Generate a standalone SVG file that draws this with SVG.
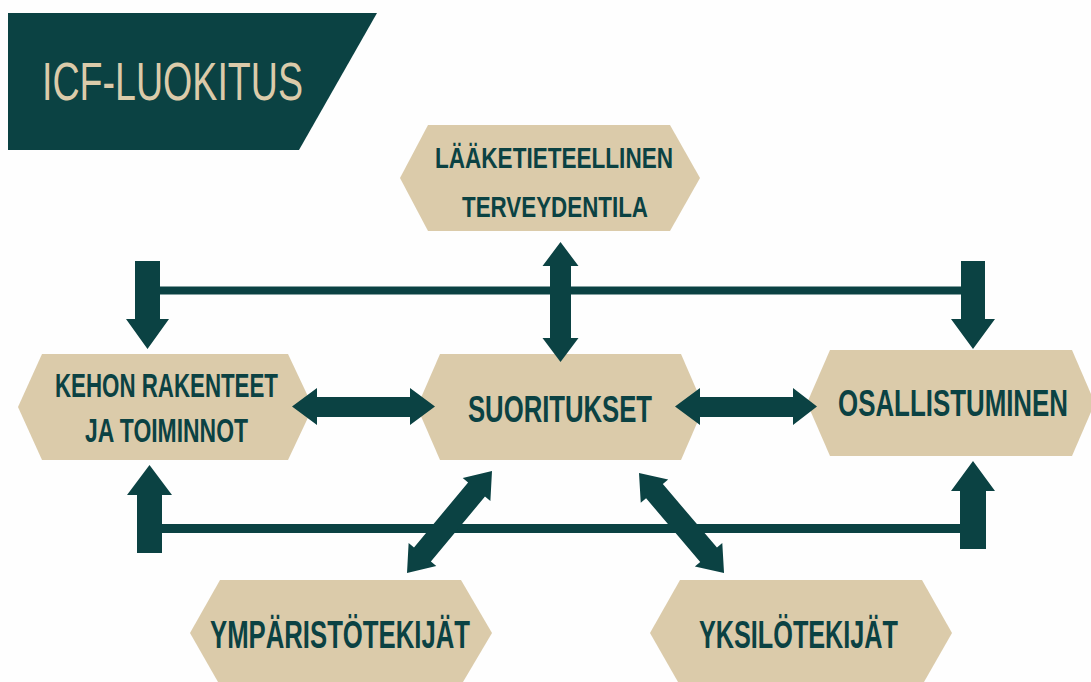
<svg xmlns="http://www.w3.org/2000/svg" width="1091" height="682" viewBox="0 0 1091 682">
<style>
.hex{fill:#dbcbaa}
.dk{fill:#0b4243}
.lbl{font-family:"Liberation Sans",Arial,sans-serif;font-weight:bold;fill:#0b4243;text-anchor:middle}
.ttl{font-family:"Liberation Sans",Arial,sans-serif;fill:#dbcbaa;text-anchor:middle}
</style>
<defs>
<polygon id="dbl" points="0,0 24,-18 24,-11 108,-11 108,-18 132,0 108,18 108,11 24,11 24,18"/>
</defs>
<rect width="1091" height="682" fill="#fefefe"/>
<g id="title">
<polygon class="dk" points="8,13 377,13 299,150 8,150"/>
<text class="ttl" x="172.5" y="100" font-size="53" textLength="261" lengthAdjust="spacingAndGlyphs">ICF-LUOKITUS</text>
</g>
<g id="node-terveydentila">
<polygon class="hex" points="400,178 428,125 670,125 700,178 670,231 428,231"/>
<text class="lbl" x="554" y="168" font-size="29" textLength="238" lengthAdjust="spacingAndGlyphs">LÄÄKETIETEELLINEN</text>
<text class="lbl" x="555" y="217" font-size="29" textLength="186" lengthAdjust="spacingAndGlyphs">TERVEYDENTILA</text>
</g>
<g id="node-kehon">
<polygon class="hex" points="18,407 42,354 288,354 313,407 288,460 42,460"/>
<text class="lbl" x="166.5" y="397" font-size="33" textLength="223" lengthAdjust="spacingAndGlyphs">KEHON RAKENTEET</text>
<text class="lbl" x="166.5" y="442" font-size="33" textLength="163" lengthAdjust="spacingAndGlyphs">JA TOIMINNOT</text>
</g>
<g id="node-suoritukset">
<polygon class="hex" points="417,407 440,354 681,354 704,407 681,460 440,460"/>
<text class="lbl" x="560" y="422" font-size="37" textLength="184" lengthAdjust="spacingAndGlyphs">SUORITUKSET</text>
</g>
<g id="node-osallistuminen">
<polygon class="hex" points="807,403 830,350 1072,350 1091,394 1091,412 1072,456 830,456"/>
<text class="lbl" x="0" y="0" font-size="36" transform="translate(953,416) scale(0.719,1)">OSALLISTUMINEN</text>
</g>
<g id="node-ymparisto">
<polygon class="hex" points="190,633 220,580 461,580 492,633 463,682 218,682"/>
<text class="lbl" x="340" y="648" font-size="38" textLength="260" lengthAdjust="spacingAndGlyphs">YMPÄRISTÖTEKIJÄT</text>
</g>
<g id="node-yksilo">
<polygon class="hex" points="650,633 680,580 922,580 952,633 924,682 678,682"/>
<text class="lbl" x="798.5" y="648" font-size="38" textLength="199" lengthAdjust="spacingAndGlyphs">YKSILÖTEKIJÄT</text>
</g>
<g id="connectors" class="dk">
<rect x="158" y="286.5" width="805" height="8"/>
<polygon points="135,261 160,261 160,319 169,319 147.5,349 126,319 135,319"/>
<polygon points="961,261 985,261 985,319 995,319 973,349 951,319 961,319"/>
<polygon points="560.5,242 578.5,266 571,266 571,338 578.5,338 560.5,362 542.5,338 550,338 550,266 542.5,266"/>
<polygon points="292,406.5 317,388 317,397 410,397 410,388 435,406.5 410,425 410,417 317,417 317,425"/>
<polygon points="675,406.5 700,388 700,397 793,397 793,388 817,406.5 793,425 793,417 700,417 700,425"/>
<rect x="160" y="524" width="802" height="9"/>
<polygon points="149.5,465 172,495 162,495 162,553 137,553 137,495 127,495"/>
<polygon points="973,461 995,491 986,491 986,549 960,549 960,491 951,491"/>
<use href="#dbl" transform="translate(407,573) rotate(-50.2) scale(1.006,1)"/>
<use href="#dbl" transform="translate(639,473) rotate(49.6) scale(0.994,1)"/>
</g>
</svg>
